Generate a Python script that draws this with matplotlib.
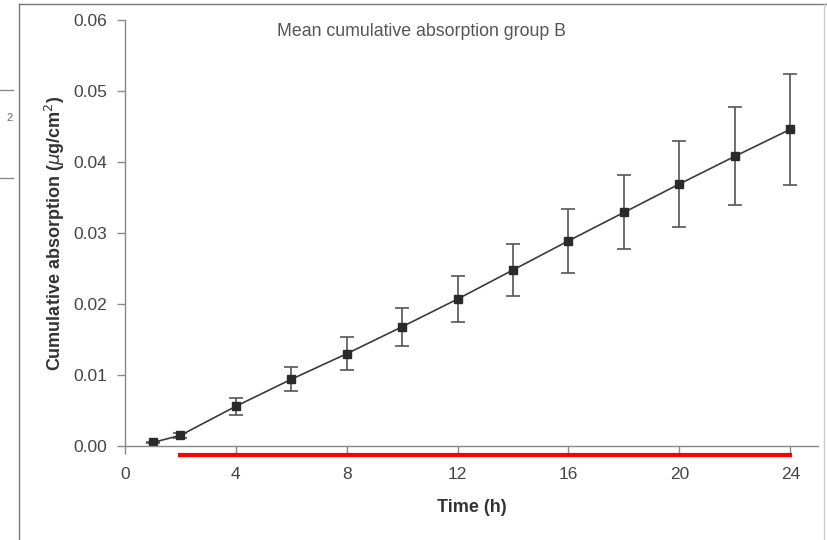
import matplotlib.pyplot as plt
from matplotlib.lines import Line2D

# Mittelwerte
time_h = [1, 2, 4, 6, 8, 10, 12, 14, 16, 18, 20, 22, 24]
mean_abs = [0.0005, 0.0015, 0.0056, 0.0094, 0.0130, 0.0168, 0.0207, 0.0248,
            0.0289, 0.0329, 0.0369, 0.0408, 0.0446]
err_abs = [0.0001, 0.0003, 0.0012, 0.0017, 0.0023, 0.0027, 0.0032, 0.0037,
           0.0045, 0.0052, 0.0060, 0.0069, 0.0078]
x_ticks = [0, 4, 8, 12, 16, 20, 24]
y_ticks = [0.00, 0.01, 0.02, 0.03, 0.04, 0.05, 0.06]
red_span = [2, 24]

plt.rcParams["font.family"] = ["Liberation Sans", "DejaVu Sans"]

fig = plt.figure(figsize=(8.27, 5.40), dpi=100)
ax = fig.add_axes([0.1511, 0.174, 0.838, 0.789])

ax.errorbar(time_h, mean_abs, yerr=err_abs, color="#3a3a3a", lw=1.2,
            marker="s", ms=6, mfc="#2a2a2a", mec="#2a2a2a",
            ecolor="#555555", elinewidth=1.2, capsize=5, capthick=1.2)

ax.set_xlim(0, 25)
ax.set_ylim(0, 0.06)
ax.set_xticks(x_ticks)
ax.set_yticks(y_ticks)
ax.set_yticklabels([f"{v:.2f}" for v in y_ticks])

for s in ["top", "right"]:
    ax.spines[s].set_visible(False)
for s in ["left", "bottom"]:
    ax.spines[s].set_color("#888888")
    ax.spines[s].set_linewidth(1.0)
ax.tick_params(colors="#888888", labelcolor="#444444", labelsize=12.5,
               length=6, width=1.0)
ax.tick_params(axis="x", pad=9)
ax.tick_params(axis="y", pad=7)

ax.set_xlabel("Time (h)", fontsize=13, fontweight="bold", color="#333333",
              labelpad=12)
ax.set_ylabel(r"Cumulative absorption ($\mu$g/cm$^2$)", fontsize=13,
              fontweight="bold", color="#333333", labelpad=4)

ax.text(0.4286, 0.973, "Mean cumulative absorption group B", transform=ax.transAxes,
        ha="center", va="center", fontsize=12.8, color="#555555")

# rote Markierung unter der Achse
ax.plot(red_span, [-0.022, -0.022], color="#ff0000", lw=3,
        transform=ax.get_xaxis_transform(), clip_on=False)

# Rahmen vom Scan
fig.add_artist(Line2D([0.023, 0.023], [0, 0.993], color="#777777", lw=1))
fig.add_artist(Line2D([0.023, 1.0], [0.993, 0.993], color="#777777", lw=1))
fig.add_artist(Line2D([0.996, 0.996], [0, 0.993], color="#cccccc", lw=1))
fig.add_artist(Line2D([0, 0.016], [0.833, 0.833], color="#888888", lw=1))
fig.add_artist(Line2D([0, 0.016], [0.670, 0.670], color="#888888", lw=1))
fig.text(0.012, 0.782, "2", fontsize=8, color="#666666", ha="center", va="center")

fig.savefig("out.png", dpi=100)
